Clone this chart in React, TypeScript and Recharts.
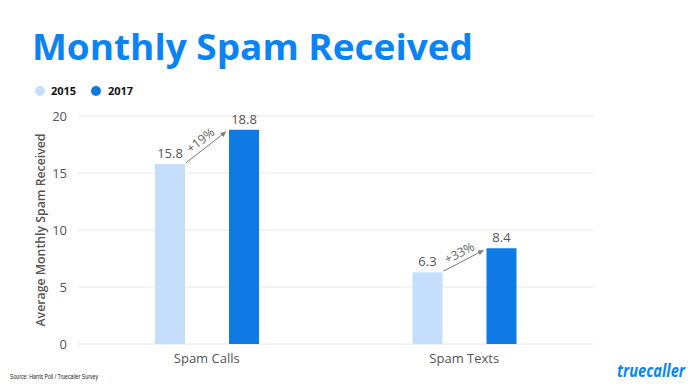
import React from "react";
import { BarChart, Bar, XAxis, YAxis, CartesianGrid, LabelList } from "recharts";

const categories = ["Spam Calls", "Spam Texts"];
const values2015 = [15.8, 6.3];
const values2017 = [18.8, 8.4];
const changeLabels = ["+19%", "+33%"];
const yTicks = [0, 5, 10, 15, 20];
const seriesNames = ["2015", "2017"];

const data = categories.map((c, i) => ({ name: c, v2015: values2015[i], v2017: values2017[i] }));

const LIGHT = "#c4defc";
const DARK = "#107ae4";
const TITLE = "#0a84f5";
const GRAY = "#555";
const BAR_GAP = 44;

const Label2017 = (props: any) => {
  const { x, y, width, height, value, index } = props;
  const bottom = y + height;
  const y15 = bottom - (height * values2015[index]) / value;
  const x15r = x - BAR_GAP;
  const x1 = x15r + 1, y1 = y15 - 1;
  const x2 = x - 3, y2 = y + 2;
  const ang = Math.atan2(y2 - y1, x2 - x1);
  const mx = (x1 + x2) / 2 + Math.sin(ang) * 9;
  const my = (y1 + y2) / 2 - Math.cos(ang) * 9;
  const deg = (ang * 180) / Math.PI;
  const ah = 6;
  const a1 = ang + Math.PI - 0.45, a2 = ang + Math.PI + 0.45;
  return (
    <g>
      <text x={x + width / 2} y={y - 6} textAnchor="middle" fontSize={13} fill={GRAY} fontFamily="Open Sans, sans-serif">
        {value}
      </text>
      <line x1={x1} y1={y1} x2={x2} y2={y2} stroke="#777" strokeWidth={1} />
      <path
        d={`M${x2},${y2} L${x2 + ah * Math.cos(a1)},${y2 + ah * Math.sin(a1)} L${x2 + ah * Math.cos(a2)},${y2 + ah * Math.sin(a2)} Z`}
        fill="#777"
      />
      <text
        x={mx}
        y={my}
        textAnchor="middle"
        dominantBaseline="central"
        fontSize={12.5}
        fill="#666"
        fontFamily="Open Sans, sans-serif"
        transform={`rotate(${deg} ${mx} ${my})`}
      >
        {changeLabels[index]}
      </text>
    </g>
  );
};

export default function App() {
  return (
    <div style={{ position: "absolute", left: 0, top: 0, width: 700, height: 391, background: "#fff" }}>
      <div style={{ position: "absolute", left: 0, top: 0 }}>
        <BarChart width={700} height={391} data={data} margin={{ top: 116, right: 107, bottom: 17, left: 38 }} barGap={BAR_GAP}>
          <CartesianGrid vertical={false} stroke="#e8e8e8" />
          <XAxis
            dataKey="name"
            height={30}
            axisLine={false}
            tickLine={false}
            tickMargin={4}
            tick={{ fontSize: 13, fill: GRAY, fontFamily: "Open Sans, sans-serif" }}
          />
          <YAxis
            width={40}
            domain={[0, 20]}
            ticks={yTicks}
            axisLine={false}
            tickLine={false}
            tickMargin={5}
            tick={{ fontSize: 13, fill: GRAY, fontFamily: "Open Sans, sans-serif" }}
          />
          <Bar dataKey="v2015" fill={LIGHT} barSize={30} isAnimationActive={false}>
            <LabelList dataKey="v2015" position="top" offset={6} style={{ fontSize: 13, fill: GRAY, fontFamily: "Open Sans, sans-serif" }} />
          </Bar>
          <Bar dataKey="v2017" fill={DARK} barSize={30} isAnimationActive={false}>
            <LabelList dataKey="v2017" content={<Label2017 />} />
          </Bar>
        </BarChart>
      </div>
      <svg width={700} height={391} style={{ position: "absolute", left: 0, top: 0, pointerEvents: "none" }}>
        <text x={32} y={60} fontSize={36} fontWeight={700} fill={TITLE} fontFamily="Open Sans, sans-serif" textLength={441} lengthAdjust="spacingAndGlyphs">
          Monthly Spam Received
        </text>
        <circle cx={40} cy={91} r={5} fill={LIGHT} />
        <text x={51} y={95} fontSize={11} fontWeight={700} fill="#111" fontFamily="Open Sans, sans-serif">{seriesNames[0]}</text>
        <circle cx={96} cy={91} r={5} fill={DARK} />
        <text x={108} y={95} fontSize={11} fontWeight={700} fill="#111" fontFamily="Open Sans, sans-serif">{seriesNames[1]}</text>
        <text
          x={40}
          y={230}
          textAnchor="middle"
          fontSize={12.5}
          fontWeight={600}
          fill={GRAY}
          fontFamily="Open Sans, sans-serif"
          transform="rotate(-90 40 230)"
          dominantBaseline="central"
          textLength={193}
          lengthAdjust="spacingAndGlyphs"
        >
          Average Monthly Spam Received
        </text>
        <text x={10} y={379} fontSize={8} fill="#222" fontFamily="Liberation Sans Narrow, Liberation Sans, sans-serif" textLength={88} lengthAdjust="spacingAndGlyphs">
          Source: Harris Poll / Truecaller Survey
        </text>
        <text x={617} y={377} fontSize={17} fontWeight={700} fontStyle="italic" fill="#0a84f5" fontFamily="Open Sans, sans-serif" textLength={68} lengthAdjust="spacingAndGlyphs">
          truecaller
        </text>
      </svg>
    </div>
  );
}
